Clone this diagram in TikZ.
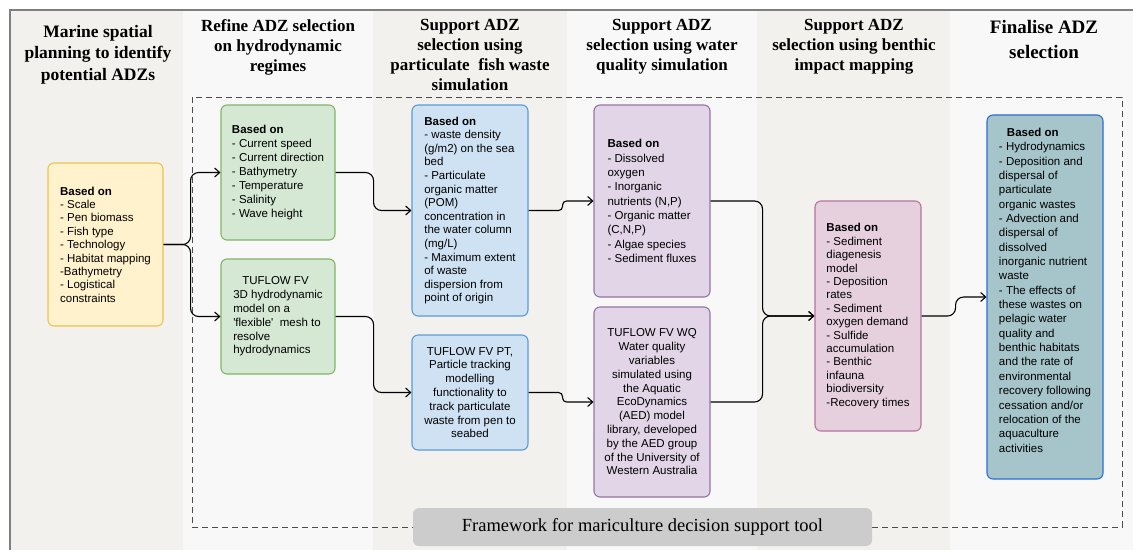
\documentclass[tikz,border=0pt]{standalone}
\usepackage{fontspec}
\setmainfont{Liberation Serif}
\newfontfamily\adzsans{Liberation Sans}
\usetikzlibrary{arrows.meta,positioning,calc}
\definecolor{aband}{HTML}{F2F1ED}
\definecolor{aplain}{HTML}{F8F8F8}
\definecolor{aframe}{HTML}{7F7F7F}
\definecolor{ayel}{HTML}{F0C24F}
\definecolor{ayelfill}{HTML}{FFF2CC}
\definecolor{agrn}{HTML}{82B366}
\definecolor{agrnfill}{HTML}{D5E8D4}
\definecolor{ablu}{HTML}{5B9BD5}
\definecolor{ablufill}{HTML}{CFE2F3}
\definecolor{aprp}{HTML}{9673A6}
\definecolor{aprpfill}{HTML}{E1D5E7}
\definecolor{apnk}{HTML}{B5739D}
\definecolor{apnkfill}{HTML}{E6D0DE}
\definecolor{atea}{HTML}{2B6CD6}
\definecolor{ateafill}{HTML}{A5C5CA}
\definecolor{atag}{HTML}{CCCCCC}
\tikzset{
  adzbox/.style 2 args={
    rounded corners=6pt, draw=#1, fill=#2, line width=1.1pt,
    text=black, align=left, inner sep=0pt,
    font=\adzsans\fontsize{11.5}{13.8}\selectfont},
  adzhead/.style={font=\bfseries\fontsize{17}{20}\selectfont,
    align=center, anchor=north, inner sep=0pt},
  adzflow/.style={-{Straight Barb[length=5pt,width=9pt]}, draw=black,
    line width=1.1pt, rounded corners=8pt},
  adzdash/.style={draw=black!70, line width=0.9pt,
    dash pattern=on 6pt off 4pt},
  adztag/.style={rounded corners=6pt, fill=atag, inner sep=0pt,
    font=\fontsize{18.5}{20}\selectfont},
}

\begin{document}
\begin{tikzpicture}[x=1pt,y=-1pt]

\useasboundingbox[fill=white] (0,0) rectangle (1133,550);
\foreach \xa/\xb/\c in {10/183/aband, 183/373/aplain, 373/567/aband,
    567/757/aplain, 757/950/aband, 950/1133/aplain}
  \fill[\c] (\xa,10) rectangle (\xb,550);
\draw[aframe, line width=1.2pt] (1133,10) -| (10,550);

% column headers
\node[adzhead, font=\bfseries\fontsize{17.5}{21.5}\selectfont] (c1) at (98,25)
  {Marine spatial\\planning to identify\\potential ADZs};
\node[adzhead] (c2) at (278,19) {Refine ADZ selection\\on hydrodynamic\\regimes};
\node[adzhead] (c3) at (470,19)
  {Support ADZ\\selection using\\particulate~~fish waste\\simulation};
\node[adzhead] (c4) at (662,19)
  {Support ADZ\\selection using water\\quality simulation};
\node[adzhead] (c5) at (854,19)
  {Support ADZ\\selection using benthic\\impact mapping};
\node[adzhead, font=\bfseries\fontsize{19}{25}\selectfont] (c6) at (1044,20)
  {Finalise ADZ\\selection};

\draw[adzdash] (192,97) rectangle (1122,527);

% boxes
\node[adzbox={ayel}{ayelfill}, minimum width=115, minimum height=163,
  font=\adzsans\fontsize{11.5}{13.4}\selectfont] (ys) at (105.5,244.5)
  {\textbf{Based on}\\- Scale\\- Pen biomass\\- Fish type\\- Technology\\
   - Habitat mapping\\-Bathymetry\\- Logistical\\constraints};
\node[adzbox={agrn}{agrnfill}, minimum width=114, minimum height=135,
  font=\adzsans\fontsize{11.5}{14}\selectfont] (h1) at (278,172.5)
  {\textbf{Based on}\\- Current speed\\- Current direction\\- Bathymetry\\
   - Temperature\\- Salinity\\- Wave height};
\node[adzbox={agrn}{agrnfill}, minimum width=114, minimum height=115]
  (h2) at (278,316.5)
  {\hspace*{9pt}TUFLOW FV\\3D hydrodynamic\\model on a\\'flexible'~~mesh to\\
   resolve\\hydrodynamics};
\node[adzbox={ablu}{ablufill}, minimum width=116, minimum height=211,
  font=\adzsans\fontsize{11.5}{13.6}\selectfont] (p1) at (470,210.5)
  {\textbf{Based on}\\- waste density\\(g/m2) on the sea\\bed\\- Particulate\\
   organic matter\\(POM)\\concentration in\\the water column\\(mg/L)\\
   - Maximum extent\\of waste\\dispersion from\\point of origin};
\node[adzbox={ablu}{ablufill}, minimum width=116, minimum height=115,
  align=center] (p2) at (470,392.5)
  {TUFLOW FV PT,\\Particle tracking\\modelling\\functionality to\\
   track particulate\\waste from pen to\\seabed};
\node[adzbox={aprp}{aprpfill}, minimum width=116, minimum height=192,
  font=\adzsans\fontsize{11.5}{14.3}\selectfont] (w1) at (652,201)
  {\textbf{Based on}\\- Dissolved\\oxygen\\- Inorganic\\nutrients (N,P)\\
   - Organic matter\\(C,N,P)\\- Algae species\\- Sediment fluxes};
\node[adzbox={aprp}{aprpfill}, minimum width=116, minimum height=190,
  align=center] (w2) at (652,402)
  {TUFLOW FV WQ\\Water quality\\variables\\simulated using\\the Aquatic\\
   EcoDynamics\\(AED) model\\library, developed\\by the AED group\\
   of the University of\\Western Australia};
\node[adzbox={apnk}{apnkfill}, minimum width=106, minimum height=230,
  font=\adzsans\fontsize{11.5}{13.4}\selectfont] (b1) at (868,316)
  {\textbf{Based on}\\- Sediment\\diagenesis\\model\\- Deposition\\rates\\
   - Sediment\\oxygen demand\\- Sulfide\\accumulation\\- Benthic\\infauna\\
   biodiversity\\-Recovery times};
\node[adzbox={atea}{ateafill}, minimum width=116, minimum height=364,
  font=\adzsans\fontsize{11.5}{14.35}\selectfont] (f1) at (1045,297)
  {\hspace*{8pt}\textbf{Based on}\\- Hydrodynamics\\- Deposition and\\
   dispersal of\\particulate\\organic wastes\\- Advection and\\dispersal of\\
   dissolved\\inorganic nutrient\\waste\\- The effects of\\these wastes on\\
   pelagic water\\quality and\\benthic habitats\\and the rate of\\
   environmental\\recovery following\\cessation and/or\\relocation of the\\
   aquaculture\\activities\\[-0.4pt]};

\node[adztag, minimum width=459, minimum height=38] (fw) at (642.5,527)
  {Framework for mariculture decision support tool};

% connectors
\foreach \a/\b/\d in {ys/h1/27, ys/h2/27, h1/p1/38, h2/p2/38,
    w1/b1/52, w2/b1/52, b1/f1/34}
  \draw[adzflow] (\a.east) -- ++(\d,0) |- (\b.west);
\foreach \a/\b in {p1/w1, p2/w2}
  \draw[adzflow, rounded corners=4pt] (\a.east) -- ++(34,0) |- (\b.west);

\end{tikzpicture}
\end{document}
